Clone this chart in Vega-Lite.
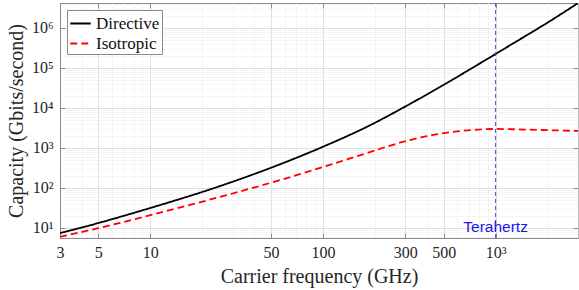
{
  "$schema": "https://vega.github.io/schema/vega-lite/v6.json",
  "autosize": {"type": "none"},
  "width": 518,
  "height": 235,
  "padding": {"left": 60, "top": 3, "right": 1, "bottom": 52},
  "background": "white",
  "config": {
    "view": {"stroke": "#8a8a8a", "strokeWidth": 1},
    "axis": {
      "labelFont": "Liberation Serif",
      "titleFont": "Liberation Serif",
      "labelColor": "#262626",
      "titleColor": "#262626",
      "domainColor": "#8a8a8a",
      "tickColor": "#8a8a8a",
      "titleFontWeight": "normal"
    },
    "legend": {
      "labelFont": "Liberation Serif",
      "labelFontSize": 17,
      "labelColor": "#111111"
    }
  },
  "datasets": {
    "curves": [
      {"f": 3, "c": 7.41, "series": "Directive"},
      {"f": 5, "c": 13.3, "series": "Directive"},
      {"f": 10, "c": 31.6, "series": "Directive"},
      {"f": 25.1, "c": 110, "series": "Directive"},
      {"f": 50.1, "c": 321, "series": "Directive"},
      {"f": 100, "c": 1072, "series": "Directive"},
      {"f": 178, "c": 3311, "series": "Directive"},
      {"f": 316, "c": 12300, "series": "Directive"},
      {"f": 501, "c": 38000, "series": "Directive"},
      {"f": 794, "c": 123000, "series": "Directive"},
      {"f": 1259, "c": 407000, "series": "Directive"},
      {"f": 1995, "c": 1350000, "series": "Directive"},
      {"f": 3000, "c": 4170000, "series": "Directive"},
      {"f": 3, "c": 6.03, "series": "Isotropic"},
      {"f": 5, "c": 9.89, "series": "Isotropic"},
      {"f": 10, "c": 20.9, "series": "Isotropic"},
      {"f": 25.1, "c": 59.2, "series": "Isotropic"},
      {"f": 50.1, "c": 135.5, "series": "Isotropic"},
      {"f": 100, "c": 333, "series": "Isotropic"},
      {"f": 178, "c": 736, "series": "Isotropic"},
      {"f": 282, "c": 1371, "series": "Isotropic"},
      {"f": 398, "c": 1972, "series": "Isotropic"},
      {"f": 631, "c": 2661, "series": "Isotropic"},
      {"f": 1000, "c": 2985, "series": "Isotropic"},
      {"f": 1778, "c": 2818, "series": "Isotropic"},
      {"f": 3000, "c": 2661, "series": "Isotropic"}
    ],
    "marker": [{"f": 1000, "c": 10.6, "label": "Terahertz"}]
  },
  "resolve": {"axis": {"x": "independent", "y": "independent"}},
  "layer": [
    {
      "data": {"name": "curves"},
      "mark": {"type": "line", "strokeWidth": 1.8, "clip": true, "interpolate": "monotone"},
      "encoding": {
        "x": {
          "field": "f", "type": "quantitative",
          "scale": {"type": "log", "domain": [3, 3000], "nice": false},
          "axis": {
            "orient": "bottom",
            "title": "Carrier frequency (GHz)",
            "titleFontSize": 20,
            "titlePadding": 6,
            "labelFontSize": 16,
            "labelPadding": 11,
            "tickSize": -5,
            "labelFlush": false,
            "values": [3,4,5,6,7,8,9,10,20,30,40,50,60,70,80,90,100,200,300,400,500,600,700,800,900,1000,2000,3000],
            "labelExpr": "datum.value == 1000 ? '10³' : (indexof([3,5,10,50,100,300,500], datum.value) >= 0 ? toString(datum.value) : '')",
            "tickOpacity": {"condition": {"test": "indexof([3,5,10,50,100,300,500,1000], datum.value) >= 0", "value": 1}, "value": 0},
            "grid": true,
            "gridColor": {"condition": {"test": "indexof([3,5,10,50,100,300,500,1000], datum.value) >= 0", "value": "#e2e2e2"}, "value": "#ebebeb"},
            "gridDash": {"condition": {"test": "indexof([3,5,10,50,100,300,500,1000], datum.value) >= 0", "value": []}, "value": [1, 1]}
          }
        },
        "y": {
          "field": "c", "type": "quantitative",
          "scale": {"type": "log", "domain": [5.62, 4200000], "nice": false},
          "axis": {
            "orient": "left",
            "title": "Capacity (Gbits/second)",
            "titleFontSize": 20,
            "titlePadding": 5,
            "labelFontSize": 16,
            "labelPadding": 12,
            "tickSize": -5,
            "values": [6,7,8,9,10,20,30,40,50,60,70,80,90,100,200,300,400,500,600,700,800,900,1000,2000,3000,4000,5000,6000,7000,8000,9000,10000,20000,30000,40000,50000,60000,70000,80000,90000,100000,200000,300000,400000,500000,600000,700000,800000,900000,1000000,2000000,3000000,4000000],
            "labelExpr": "datum.value == 10 ? '10¹' : datum.value == 100 ? '10²' : datum.value == 1000 ? '10³' : datum.value == 10000 ? '10⁴' : datum.value == 100000 ? '10⁵' : datum.value == 1000000 ? '10⁶' : ''",
            "tickOpacity": {"condition": {"test": "indexof([10,100,1000,10000,100000,1000000], datum.value) >= 0", "value": 1}, "value": 0},
            "grid": true,
            "gridColor": {"condition": {"test": "indexof([10,100,1000,10000,100000,1000000], datum.value) >= 0", "value": "#e2e2e2"}, "value": "#ebebeb"},
            "gridDash": {"condition": {"test": "indexof([10,100,1000,10000,100000,1000000], datum.value) >= 0", "value": []}, "value": [1, 1]}
          }
        },
        "color": {
          "field": "series", "type": "nominal",
          "scale": {"domain": ["Directive", "Isotropic"], "range": ["#000000", "#ff0000"]},
          "legend": {
            "title": null,
            "orient": "top-left",
            "offset": 7,
            "padding": 2,
            "strokeColor": "#8a8a8a",
            "fillColor": "white",
            "symbolType": "stroke",
            "symbolSize": 420,
            "symbolStrokeWidth": 2,
            "rowPadding": 0,
            "labelOffset": 4
          }
        },
        "strokeDash": {
          "field": "series", "type": "nominal",
          "scale": {"domain": ["Directive", "Isotropic"], "range": [[1, 0], [7, 4]]},
          "legend": {
            "title": null,
            "orient": "top-left",
            "offset": 7,
            "padding": 2,
            "strokeColor": "#8a8a8a",
            "fillColor": "white",
            "symbolType": "stroke",
            "symbolSize": 420,
            "symbolStrokeWidth": 2,
            "rowPadding": 0,
            "labelOffset": 4
          }
        }
      }
    },
    {
      "data": {"name": "marker"},
      "mark": {"type": "rule", "color": "#4545e8", "strokeWidth": 1, "strokeDash": [4, 3]},
      "encoding": {
        "x": {
          "field": "f", "type": "quantitative",
          "axis": {
            "orient": "top", "title": null, "labels": false, "grid": false,
            "tickSize": -5, "domain": false,
            "values": [3,5,10,50,100,300,500,1000]
          }
        }
      }
    },
    {
      "data": {"name": "marker"},
      "mark": {"type": "text", "color": "#1a1aee", "font": "Liberation Sans", "fontSize": 15.5, "align": "center", "baseline": "middle"},
      "encoding": {
        "x": {"field": "f", "type": "quantitative", "axis": null},
        "y": {
          "field": "c", "type": "quantitative",
          "axis": {
            "orient": "right", "title": null, "labels": false, "grid": false,
            "tickSize": -5, "domain": false,
            "values": [10,100,1000,10000,100000,1000000]
          }
        },
        "text": {"field": "label"}
      }
    }
  ]
}
